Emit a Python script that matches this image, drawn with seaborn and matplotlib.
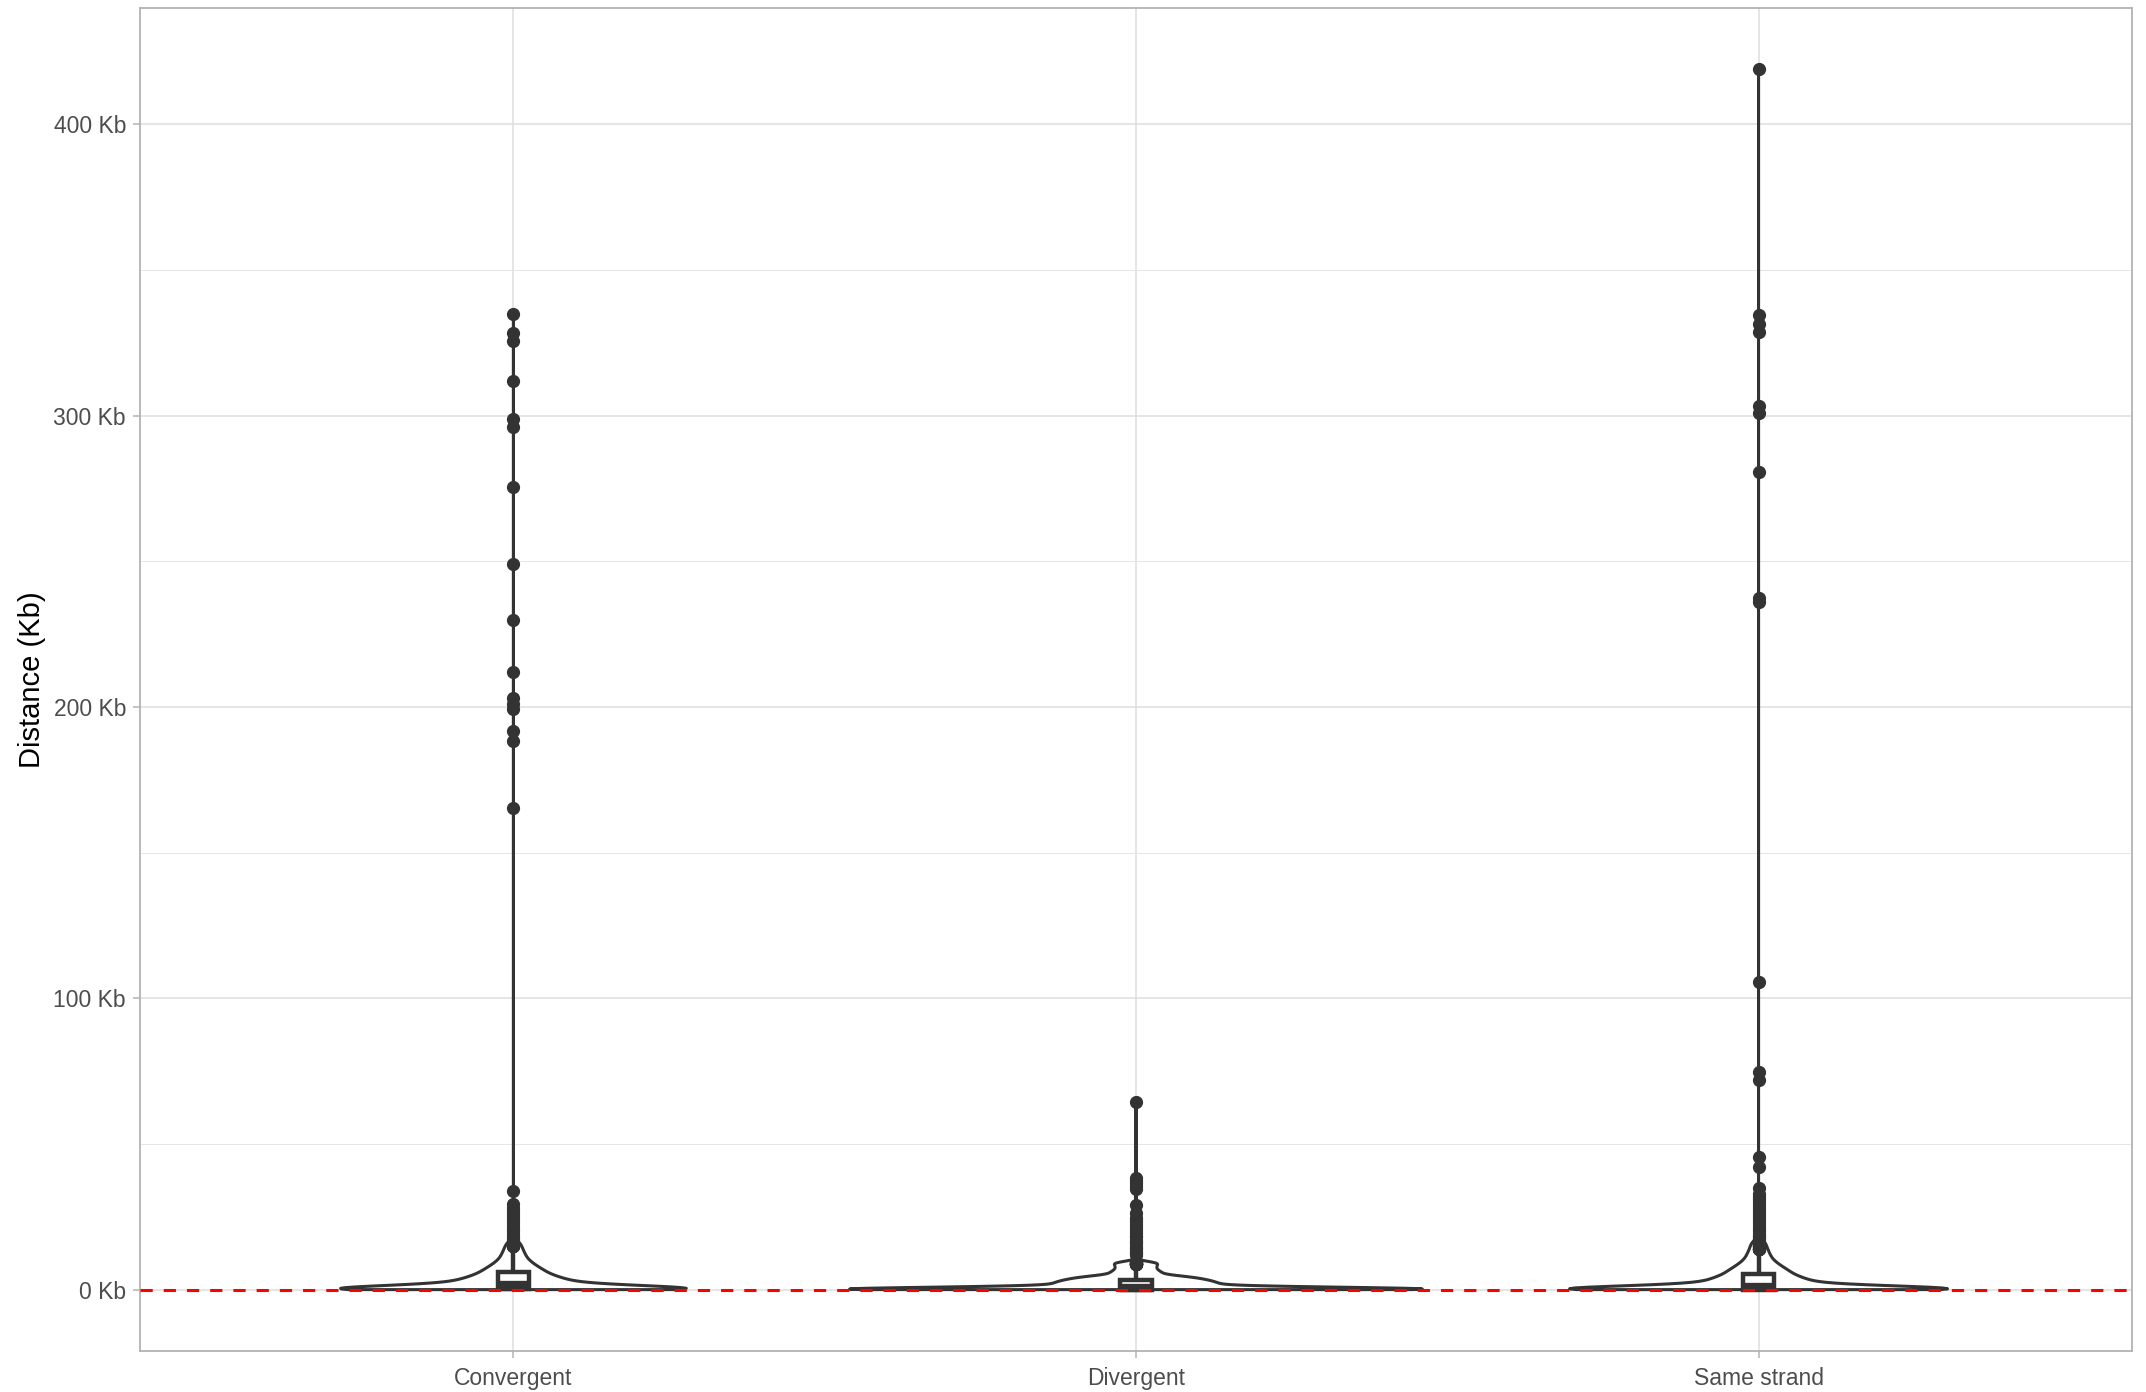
import matplotlib
matplotlib.use("Agg")
import matplotlib.pyplot as plt
import numpy as np
import pandas as pd
import seaborn as sns

categories = ["Convergent", "Divergent", "Same strand"]

# bulk of the distances (Kb), read as binned values with counts
conv_vals = [0.05, 0.2, 0.4, 0.7, 1.0, 1.5, 2, 3, 4, 5, 6, 7, 8, 9, 10, 11, 12, 13, 14, 15, 16]
conv_counts = [153, 71, 40, 30, 30, 28, 40, 45, 37, 29, 25, 22, 18, 15, 12, 10, 9, 8, 7, 6, 6]
conv_outliers = [335, 328.5, 325.7, 312, 299, 296, 275.4, 249, 229.9, 212, 203, 201, 199.3,
                 191.8, 188.5, 165.5, 34, 29.5, 28, 27, 26, 25, 24, 23, 22, 21, 20, 19, 18, 17.5, 17]

div_vals = [0.05, 0.2, 0.4, 0.7, 1.0, 1.5, 2.0, 2.5, 3.0, 3.5, 4.0, 4.5, 5.0, 6.0, 7.0, 8.0, 9.0, 9.5]
div_counts = [160, 75, 45, 30, 25, 25, 30, 28, 26, 24, 22, 18, 15, 18, 14, 14, 14, 6]
div_outliers = [64.5, 38.5, 37.5, 36.5, 35.5, 34.5, 29, 26.5, 24.5, 23.5, 22.5, 21.5, 20.5,
                19.5, 18.5, 18, 17, 16.5, 16, 15, 14.5, 14, 13, 12.5, 12]

same_vals = [0.05, 0.2, 0.4, 0.7, 1.0, 1.5, 2, 3, 4, 5, 6, 7, 8, 9, 10, 11, 12, 13, 14, 15, 16]
same_counts = [174, 77, 40, 30, 28, 26, 38, 42, 35, 28, 25, 22, 18, 15, 12, 10, 9, 8, 7, 6, 6]
same_outliers = [419, 334.6, 331.4, 328.7, 303.5, 301, 280.6, 237.4, 236, 105.7, 74.7, 71.9,
                 45.7, 42.3, 35, 33, 32, 31, 30, 29, 28, 27, 26, 25, 24, 23, 22, 21, 20,
                 19, 18.5, 18, 17.5, 17, 16.5]

y_ticks = [0, 100, 200, 300, 400]
y_ticklabels = ["0 Kb", "100 Kb", "200 Kb", "300 Kb", "400 Kb"]


def build(name, vals, counts, outliers):
    d = np.concatenate([np.repeat(vals, counts), outliers])
    return pd.DataFrame({"orientation": name, "distance_kb": d})


df = pd.concat([
    build("Convergent", conv_vals, conv_counts, conv_outliers),
    build("Divergent", div_vals, div_counts, div_outliers),
    build("Same strand", same_vals, same_counts, same_outliers),
], ignore_index=True)


def nrd0(kde):
    # same rule of thumb as R's default bandwidth
    x = kde.dataset[0]
    sd = x.std(ddof=1)
    q75, q25 = np.percentile(x, [75, 25])
    lo = min(sd, (q75 - q25) / 1.34)
    return 0.9 * lo * len(x) ** -0.2 / sd


sns.set_style("whitegrid")
plt.rcParams["font.family"] = ["Liberation Sans", "DejaVu Sans"]

fig = plt.figure(figsize=(21.46, 13.92), dpi=100)
ax = fig.add_axes([0.0652, 0.0295, 0.9283, 0.9648])

dark = "#333333"
sns.violinplot(data=df, x="orientation", y="distance_kb", order=categories, ax=ax,
               density_norm="area", cut=0, inner=None, fill=False, color=dark,
               linewidth=2.2, width=0.92, bw_method=nrd0, gridsize=1500)
sns.boxplot(data=df, x="orientation", y="distance_kb", order=categories, ax=ax,
            width=0.05, color="white", linecolor=dark, linewidth=3.2, saturation=1,
            showcaps=False, fliersize=8.5,
            flierprops=dict(marker="o", markerfacecolor=dark, markeredgecolor=dark),
            medianprops=dict(linewidth=6, color=dark))
ax.axhline(0, color="red", lw=2.2, ls=(0, (4, 3.6)), zorder=10)

ax.set_xlim(-0.6, 2.6)
ax.set_ylim(-21, 440)
ax.set_yticks(y_ticks)
ax.set_yticklabels(y_ticklabels)
ax.set_yticks([50, 150, 250, 350], minor=True)
ax.set_axisbelow(True)
ax.grid(which="major", color="#DEDEDE", lw=1.1)
ax.grid(which="minor", axis="y", color="#E6E6E6", lw=0.7)
ax.tick_params(which="major", length=5, width=1.1, color="#B3B3B3", labelsize=16.5,
               labelcolor="#4D4D4D", pad=5, left=True, bottom=True)
ax.tick_params(axis="x", pad=6.5)
ax.tick_params(which="minor", length=0)
for s in ax.spines.values():
    s.set_color("#B3B3B3")
    s.set_linewidth(1.3)

ax.set_xlabel("")
ax.set_ylabel("Distance (Kb)", fontsize=21, color="black")
ax.yaxis.set_label_coords(-0.047, 0.5)

fig.savefig("out.png", dpi=100)
